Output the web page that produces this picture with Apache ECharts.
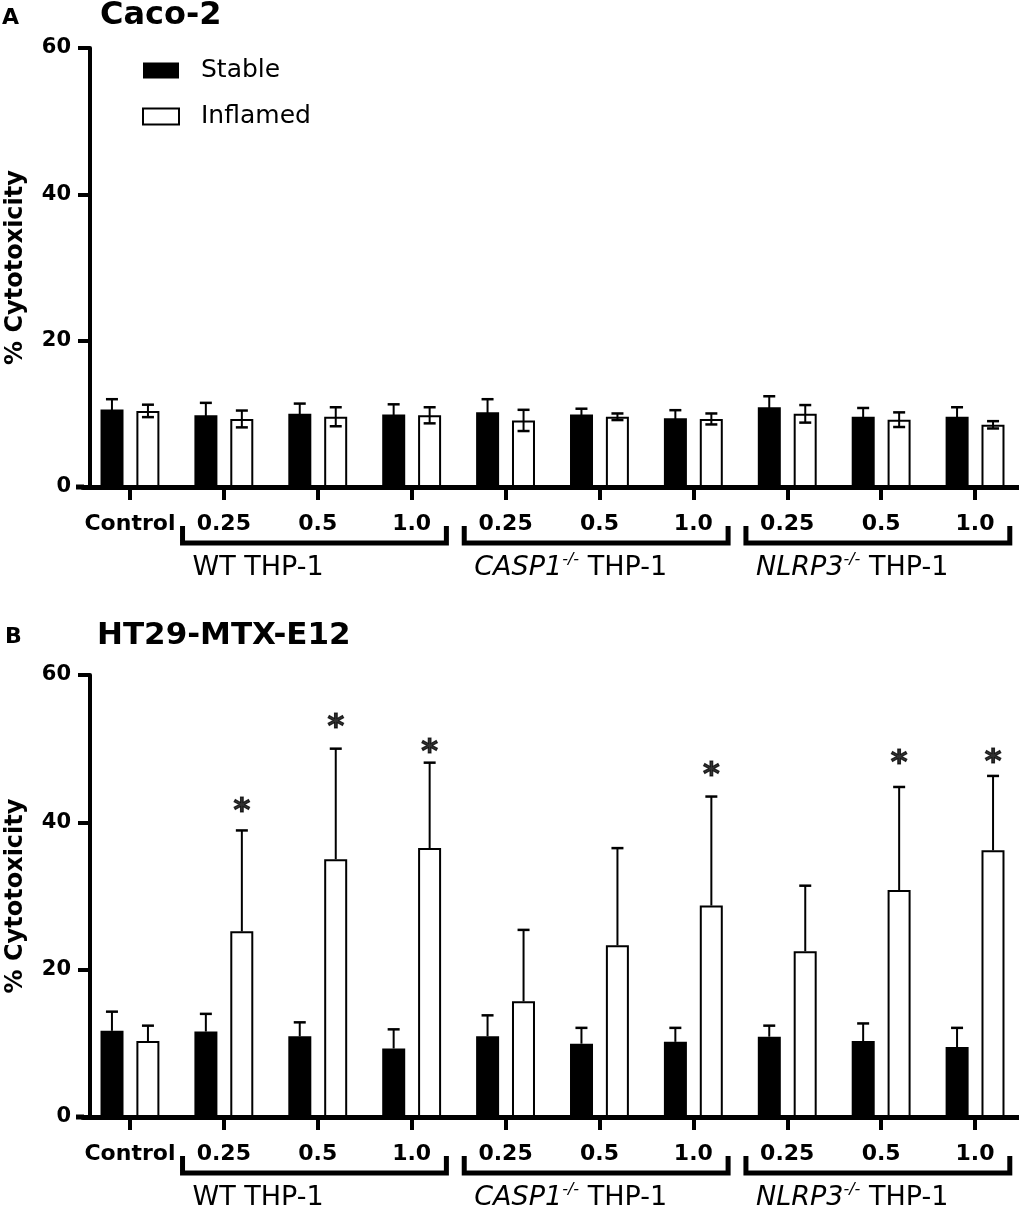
<!DOCTYPE html>
<html>
<head>
<meta charset="utf-8">
<script src="https://cdn.jsdelivr.net/npm/echarts@6/dist/echarts.min.js"></script>
<style>
  html, body { margin: 0; padding: 0; background: #fff; }
  #chart { width: 1019px; height: 1209px; }
</style>
</head>
<body>
<div id="chart"></div>
<script>
// categories along both x axes
const categories = ['Control', '0.25', '0.5', '1.0', '0.25', '0.5', '1.0', '0.25', '0.5', '1.0'];
const groupLabels = ['WT', 'CASP1', 'NLRP3'];
const groupStart = [1, 4, 7];
const groupEnd = [3, 6, 9];
const yMin = 0, yMax = 60, yStep = 20;

// panel A - Caco-2
const cacoStable = [10.6, 9.8, 10.0, 9.9, 10.2, 9.9, 9.4, 10.9, 9.6, 9.6];
const cacoStableErr = [1.4, 1.7, 1.4, 1.4, 1.8, 0.8, 1.1, 1.5, 1.2, 1.3];
const cacoInflamed = [10.4, 9.3, 9.6, 9.8, 9.1, 9.6, 9.3, 10.0, 9.2, 8.5];
const cacoInflamedErr = [0.85, 1.15, 1.3, 1.1, 1.45, 0.45, 0.75, 1.2, 1.0, 0.5];

// panel B - HT29-MTX-E12
const htStable = [11.7, 11.6, 10.95, 9.3, 10.95, 9.95, 10.2, 10.9, 10.3, 9.5];
const htStableErr = [2.6, 2.4, 1.9, 2.6, 2.85, 2.15, 1.9, 1.5, 2.4, 2.6];
const htInflamed = [10.3, 25.2, 35.0, 36.5, 15.7, 23.3, 28.7, 22.5, 30.8, 36.2];
const htInflamedErr = [2.1, 13.7, 15.0, 11.6, 9.7, 13.2, 14.8, 8.9, 14.0, 10.1];
// where the significance stars sit (null = none)
const htStars = [null, 42.1, 53.5, 50.2, null, null, 47.0, null, 48.7, 48.8];

const FONT = 'DejaVu Sans';
const BAR_W = 23;
const SHIFT = 18; // half the distance between the two bars of a pair

const chart = echarts.init(document.getElementById('chart'));

function xAxisFor(gi) {
    return {
        type: 'category',
        gridIndex: gi,
        data: categories,
        axisLine: { lineStyle: { color: '#000', width: 5 } },
        axisTick: { show: true, interval: 0, alignWithLabel: true, length: 13, lineStyle: { color: '#000', width: 4 } },
        axisLabel: { interval: 0, color: '#000', fontFamily: FONT, fontWeight: 'bold', fontSize: 22, margin: 26 }
    };
}

function yAxisFor(gi) {
    return {
        type: 'value',
        gridIndex: gi,
        min: yMin,
        max: yMax,
        interval: yStep,
        offset: -7,
        name: '% Cytotoxicity',
        nameLocation: 'middle',
        nameGap: 62,
        nameTextStyle: { color: '#000', fontFamily: FONT, fontWeight: 'bold', fontSize: 24 },
        axisLine: { show: true, lineStyle: { color: '#000', width: 4 } },
        axisTick: { show: true, length: 12, lineStyle: { color: '#000', width: 4 } },
        splitLine: { show: false },
        axisLabel: { color: '#000', fontFamily: FONT, fontWeight: 'bold', fontSize: 21, margin: 19 }
    };
}

function barSeries(gi, name, values) {
    const stable = name === 'Stable';
    return {
        name: name,
        type: 'bar',
        xAxisIndex: gi,
        yAxisIndex: gi,
        data: values,
        barWidth: BAR_W,
        barGap: '56%',
        itemStyle: stable
            ? { color: '#000' }
            : { color: '#fff', borderColor: '#000', borderWidth: 2 },
        emphasis: { disabled: true }
    };
}

// error bars drawn through the axis scales
function errSeries(gi, means, errs, shift, upOnly) {
    return {
        type: 'custom',
        xAxisIndex: gi,
        yAxisIndex: gi,
        silent: true,
        z: 3,
        data: means.map((m, i) => [i, upOnly ? m : m - errs[i], m + errs[i]]),
        renderItem: function (params, api) {
            const lo = api.coord([api.value(0), api.value(1)]);
            const hi = api.coord([api.value(0), api.value(2)]);
            const x = lo[0] + shift;
            const kids = [
                { type: 'line', shape: { x1: x, y1: lo[1], x2: x, y2: hi[1] }, style: { stroke: '#000', lineWidth: 2 } },
                { type: 'line', shape: { x1: x - 6, y1: hi[1], x2: x + 6, y2: hi[1] }, style: { stroke: '#000', lineWidth: 2.5 } }
            ];
            if (!upOnly) {
                kids.push({ type: 'line', shape: { x1: x - 6, y1: lo[1], x2: x + 6, y2: lo[1] }, style: { stroke: '#000', lineWidth: 2.5 } });
            }
            return { type: 'group', children: kids };
        }
    };
}

const starData = [];
htStars.forEach((v, i) => { if (v !== null) starData.push([i, v]); });

chart.setOption({
    animation: false,
    backgroundColor: '#fff',
    grid: [
        { left: 83, top: 48, width: 939, height: 439, outerBoundsMode: 'none', containLabel: false },
        { left: 83, top: 675, width: 939, height: 442, outerBoundsMode: 'none', containLabel: false }
    ],
    legend: {
        data: ['Stable', 'Inflamed'],
        orient: 'vertical',
        left: 142,
        top: 58,
        padding: 0,
        itemWidth: 36,
        itemHeight: 16,
        itemGap: 21,
        icon: 'rect',
        selectedMode: false,
        textStyle: { color: '#000', fontFamily: FONT, fontSize: 25, padding: [0, 0, 0, 17] }
    },
    xAxis: [xAxisFor(0), xAxisFor(1)],
    yAxis: [yAxisFor(0), yAxisFor(1)],
    series: [
        barSeries(0, 'Stable', cacoStable),
        barSeries(0, 'Inflamed', cacoInflamed),
        errSeries(0, cacoStable, cacoStableErr, -SHIFT, false),
        errSeries(0, cacoInflamed, cacoInflamedErr, SHIFT, false),
        barSeries(1, 'Stable', htStable),
        barSeries(1, 'Inflamed', htInflamed),
        errSeries(1, htStable, htStableErr, -SHIFT, true),
        errSeries(1, htInflamed, htInflamedErr, SHIFT, true),
        {
            type: 'scatter',
            xAxisIndex: 1,
            yAxisIndex: 1,
            silent: true,
            data: starData,
            symbolSize: 0,
            label: {
                show: true,
                position: 'inside',
                formatter: '*',
                offset: [SHIFT, 5],
                color: '#000',
                fontFamily: FONT,
                fontWeight: 'bold',
                fontSize: 32,
                textBorderColor: '#000',
                textBorderWidth: 1.2
            }
        }
    ]
});

// brackets, group names and panel titles
const graphics = [];
const titleStyle = { fill: '#000', fontFamily: FONT, fontWeight: 'bold', textVerticalAlign: 'middle' };
graphics.push({ type: 'text', x: 2, y: 18, style: Object.assign({ text: 'A', fontSize: 22 }, titleStyle) });
graphics.push({ type: 'text', x: 100, y: 16, style: Object.assign({ text: 'Caco-2', fontSize: 32 }, titleStyle) });
graphics.push({ type: 'text', x: 5, y: 637, style: Object.assign({ text: 'B', fontSize: 22 }, titleStyle) });
graphics.push({ type: 'text', x: 97, y: 636, style: Object.assign({ text: 'HT29-MTX-E12', fontSize: 31 }, titleStyle) });

[0, 1].forEach(gi => {
    const y0 = chart.convertToPixel({ yAxisIndex: gi }, 0);
    const gx = chart.convertToPixel({ xAxisIndex: gi }, 0);
    const w = chart.convertToPixel({ xAxisIndex: gi }, 1) - gx;
    // x axis line runs a little past the y axis
    graphics.push({ type: 'line', shape: { x1: 76, y1: y0, x2: gx - w / 2 + 1, y2: y0 }, style: { stroke: '#000', lineWidth: 5 } });
    groupLabels.forEach((g, k) => {
        const x1 = chart.convertToPixel({ xAxisIndex: gi }, groupStart[k]) - 0.44 * w;
        const x2 = chart.convertToPixel({ xAxisIndex: gi }, groupEnd[k]) + 0.37 * w;
        graphics.push({
            type: 'polyline',
            shape: { points: [[x1, y0 + 39], [x1, y0 + 56], [x2, y0 + 56], [x2, y0 + 39]] },
            style: { stroke: '#000', lineWidth: 5, fill: null, lineJoin: 'miter' }
        });
        const txt = g === 'WT' ? '{n|WT THP-1}' : '{i|' + g + '}{s|-/-}{n| THP-1}';
        graphics.push({
            type: 'text',
            x: x1 + 10,
            y: y0 + 81,
            style: {
                text: txt,
                textVerticalAlign: 'middle',
                rich: {
                    n: { fontFamily: FONT, fontSize: 27, color: '#000', lineHeight: 32 },
                    i: { fontFamily: FONT, fontSize: 27, fontStyle: 'italic', color: '#000', lineHeight: 32 },
                    s: { fontFamily: FONT, fontSize: 16, fontStyle: 'italic', color: '#000', verticalAlign: 'top', lineHeight: 17 }
                }
            }
        });
    });
});

chart.setOption({ graphic: graphics });
</script>
</body>
</html>
